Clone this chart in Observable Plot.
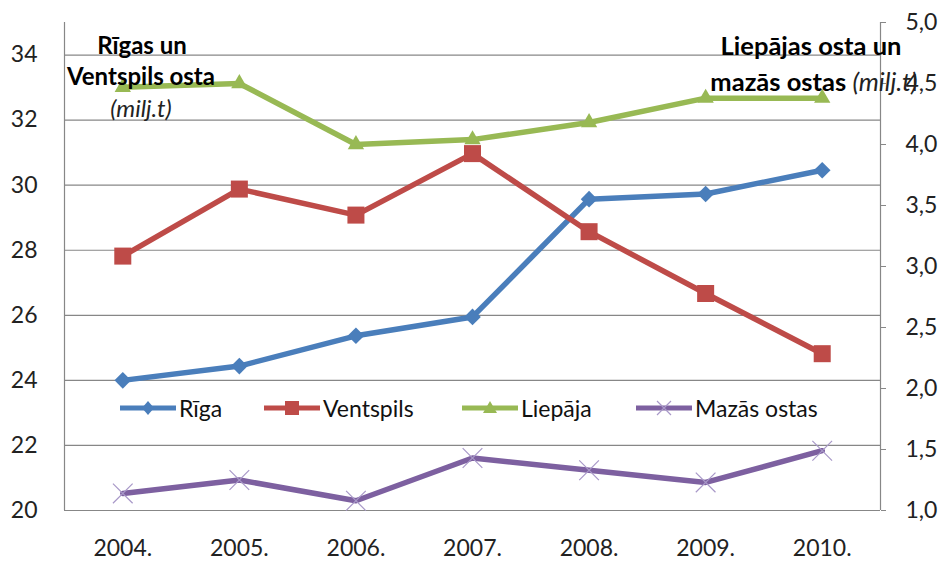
<!DOCTYPE html>
<html>
<head>
<meta charset="utf-8">
<script src="https://cdn.jsdelivr.net/npm/d3@7"></script>
<script src="https://cdn.jsdelivr.net/npm/@observablehq/plot@0.6"></script>
<style>
  html, body { margin: 0; padding: 0; background: #fff; }
  #wrap { position: relative; width: 940px; height: 562px; font-family: Lato, "Open Sans", sans-serif; }
  .ttl { position: absolute; font-weight: bold; color: #000; white-space: nowrap; text-align: center; line-height: 1; }
  .it { font-style: italic; font-weight: normal; color: #222; }
  .leg { position: absolute; top: 395px; height: 26px; display: flex; align-items: center; font-size: 23px; color: #111; white-space: nowrap; }
  .leg svg { display: block; margin-right: 3px; }
</style>
</head>
<body>
<div id="wrap"></div>
<script>
// ---- data ----
const years = [2004, 2005, 2006, 2007, 2008, 2009, 2010];
const yearLabels = ["2004.", "2005.", "2006.", "2007.", "2008.", "2009.", "2010."];
const riga = [24.0, 24.44, 25.37, 25.95, 29.57, 29.73, 30.46];        // left axis
const ventspils = [27.82, 29.88, 29.08, 30.97, 28.57, 26.67, 24.82];  // left axis
const liepaja = [4.47, 4.50, 4.00, 4.04, 4.18, 4.38, 4.38];           // right axis
const mazas = [1.14, 1.25, 1.08, 1.43, 1.33, 1.23, 1.49];             // right axis
const leftTicks = [20, 22, 24, 26, 28, 30, 32, 34];
const leftTickLabels = ["20", "22", "24", "26", "28", "30", "32", "34"];
const rightTicks = [1.0, 1.5, 2.0, 2.5, 3.0, 3.5, 4.0, 4.5, 5.0];
const rightTickLabels = ["1,0", "1,5", "2,0", "2,5", "3,0", "3,5", "4,0", "4,5", "5,0"];
const seriesNames = ["Rīga", "Ventspils", "Liepāja", "Mazās ostas"];

const colors = { riga: "#4a7ebb", vent: "#be4b48", liep: "#98b954", maz: "#7d60a0", mazX: "#a898c8" };

// right axis (1..5) mapped onto left axis domain (20..35)
const toLeft = v => 20 + (v - 1) * 3.75;
const rightTicksLeft = rightTicks.map(toLeft);

const rows = (vals, conv) => years.map((yr, i) => ({ year: yr, v: conv ? conv(vals[i]) : vals[i] }));
const dRiga = rows(riga), dVent = rows(ventspils), dLiep = rows(liepaja, toLeft), dMaz = rows(mazas, toLeft);

const grid = "#878787";
const chart = Plot.plot({
  width: 940, height: 562,
  marginLeft: 64, marginRight: 60, marginTop: 22, marginBottom: 52,
  style: { fontFamily: "Lato, 'Open Sans', sans-serif", fontSize: "23px", color: "#222", background: "transparent" },
  x: { type: "linear", domain: [2003.5, 2010.5] },
  y: { type: "linear", domain: [20, 35] },
  marks: [
    Plot.gridY(leftTicks, { stroke: grid, strokeOpacity: 1, strokeWidth: 1.2 }),
    Plot.ruleX([2003.5, 2010.5], { y1: 20, y2: 35, stroke: grid, strokeWidth: 1.2 }),
    Plot.axisY(leftTicks, { anchor: "left", tickSize: 0, tickPadding: 27, label: null,
      tickFormat: d => leftTickLabels[leftTicks.indexOf(d)], fontSize: 23 }),
    Plot.axisY(rightTicksLeft, { anchor: "right", tickSize: 5, tickPadding: 20, label: null, stroke: grid,
      tickFormat: d => rightTickLabels[rightTicksLeft.indexOf(d)], fontSize: 23 }),
    Plot.axisX(years, { tickSize: 0, tickPadding: 29, label: null,
      tickFormat: d => yearLabels[years.indexOf(d)], fontSize: 23 }),
    // Mazās ostas
    Plot.line(dMaz, { x: "year", y: "v", stroke: colors.maz, strokeWidth: 5.5 }),
    Plot.dot(dMaz, { x: "year", y: "v", symbol: "times", r: 9, stroke: colors.mazX, strokeWidth: 1.2 }),
    // Liepāja
    Plot.line(dLiep, { x: "year", y: "v", stroke: colors.liep, strokeWidth: 5.5 }),
    Plot.dot(dLiep, { x: "year", y: "v", symbol: "triangle2", r: 7.8, fill: colors.liep, stroke: "none" }),
    // Rīga
    Plot.line(dRiga, { x: "year", y: "v", stroke: colors.riga, strokeWidth: 5.5 }),
    Plot.dot(dRiga, { x: "year", y: "v", symbol: "diamond2", r: 7.5, fill: colors.riga, stroke: "none" }),
    // Ventspils
    Plot.line(dVent, { x: "year", y: "v", stroke: colors.vent, strokeWidth: 5.5 }),
    Plot.dot(dVent, { x: "year", y: "v", symbol: "square", r: 9.6, fill: colors.vent, stroke: "none" })
  ]
});

const wrap = document.getElementById("wrap");
wrap.appendChild(chart);

// titles
function addTitle(html, cx, top, size) {
  const d = document.createElement("div");
  d.className = "ttl";
  d.innerHTML = html;
  d.style.left = (cx - 200) + "px";
  d.style.width = "400px";
  d.style.top = top + "px";
  d.style.fontSize = size + "px";
  wrap.appendChild(d);
}
addTitle("Rīgas un", 142, 33, 24);
addTitle("Ventspils osta", 141, 64, 24);
addTitle('<span class="it">(milj.t)</span>', 141, 96, 24);
addTitle("Liepājas osta un", 811, 33, 25.5);
addTitle('mazās ostas <span class="it">(milj.t)</span>', 814, 69, 25.5);

// legend
const legendSymbols = [
  { c: colors.riga, sym: '<path d="M28,4 L34,11 L28,18 L22,11 Z" fill="' + colors.riga + '"/>' },
  { c: colors.vent, sym: '<rect x="21" y="4" width="14" height="14" fill="' + colors.vent + '"/>' },
  { c: colors.liep, sym: '<path d="M28,4 L35,16 L21,16 Z" fill="' + colors.liep + '"/>' },
  { c: colors.maz, sym: '<path d="M21,4 L35,18 M35,4 L21,18" stroke="' + colors.mazX + '" stroke-width="1.2"/>' }
];
const legendX = [120, 264, 462, 636];
seriesNames.forEach((name, i) => {
  const d = document.createElement("div");
  d.className = "leg";
  d.style.left = legendX[i] + "px";
  d.innerHTML = '<svg width="56" height="22"><line x1="0" y1="11" x2="56" y2="11" stroke="' + legendSymbols[i].c +
    '" stroke-width="5"/>' + legendSymbols[i].sym + '</svg><span>' + name + '</span>';
  wrap.appendChild(d);
});
</script>
</body>
</html>
